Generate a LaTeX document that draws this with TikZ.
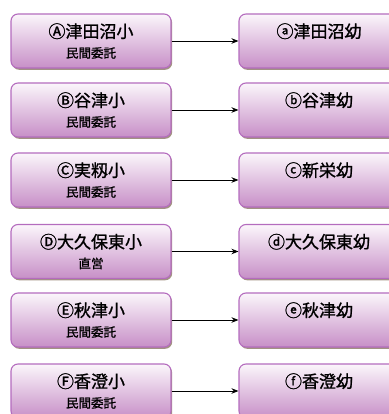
\documentclass[tikz,border=0pt]{standalone}
\usepackage{fontspec}
\newfontfamily\jp[FakeBold=1.2]{Noto Sans CJK JP}
\usetikzlibrary{shadows,arrows.meta}

\definecolor{boxline}{HTML}{B46CBE}
\definecolor{boxtop}{HTML}{FBF6FB}
\definecolor{boxbottom}{HTML}{C78FC7}

\tikzset{
  schoolbox/.style={
    draw=boxline,
    line width=1.1pt,
    rounded corners=7pt,
    top color=boxtop,
    bottom color=boxbottom,
    drop shadow={shadow xshift=1.2pt, shadow yshift=-1.8pt, fill=black!55!brown, opacity=.55},
    align=center,
    minimum width=160pt,
    minimum height=54pt,
    inner sep=0pt,
    font=\jp
  },
  linkarrow/.style={-{Stealth[length=7pt,width=5.5pt]}, line width=0.9pt}
}

\newcommand{\boxtitle}[1]{{\fontsize{17pt}{18pt}\selectfont #1}\\[8pt]}
\newcommand{\boxsub}[1]{{\fontsize{12.5pt}{13pt}\selectfont #1}}

\begin{document}
\begin{tikzpicture}[x=1pt,y=-1pt]

\useasboundingbox (0,0) rectangle (388,414);

\node[schoolbox] (A) at (91,41)
{\boxtitle{Ⓐ津田沼小}\boxsub{民間委託}};

\node[schoolbox] (a) at (319,41)
{\boxtitle{ⓐ津田沼幼}\boxsub{\phantom{民}}};

\node[schoolbox] (B) at (91,110)
{\boxtitle{Ⓑ谷津小}\boxsub{民間委託}};

\node[schoolbox] (b) at (319,110)
{\boxtitle{ⓑ谷津幼}\boxsub{\phantom{民}}};

\node[schoolbox] (C) at (91,180)
{\boxtitle{Ⓒ実籾小}\boxsub{民間委託}};

\node[schoolbox] (c) at (319,180)
{\boxtitle{ⓒ新栄幼}\boxsub{\phantom{民}}};

\node[schoolbox] (D) at (91,251.5)
{\boxtitle{Ⓓ大久保東小}\boxsub{直営}};

\node[schoolbox] (d) at (319,251.5)
{\boxtitle{ⓓ大久保東幼}\boxsub{\phantom{民}}};

\node[schoolbox] (E) at (91,320)
{\boxtitle{Ⓔ秋津小}\boxsub{民間委託}};

\node[schoolbox] (e) at (319,320)
{\boxtitle{ⓔ秋津幼}\boxsub{\phantom{民}}};

\node[schoolbox] (F) at (91,391)
{\boxtitle{Ⓕ香澄小}\boxsub{民間委託}};

\node[schoolbox] (f) at (319,391)
{\boxtitle{ⓕ香澄幼}\boxsub{\phantom{民}}};

\draw[linkarrow] (A) -- (a);
\draw[linkarrow] (B) -- (b);
\draw[linkarrow] (C) -- (c);
\draw[linkarrow] (D) -- (d);
\draw[linkarrow] (E) -- (e);
\draw[linkarrow] (F) -- (f);

\end{tikzpicture}
\end{document}
